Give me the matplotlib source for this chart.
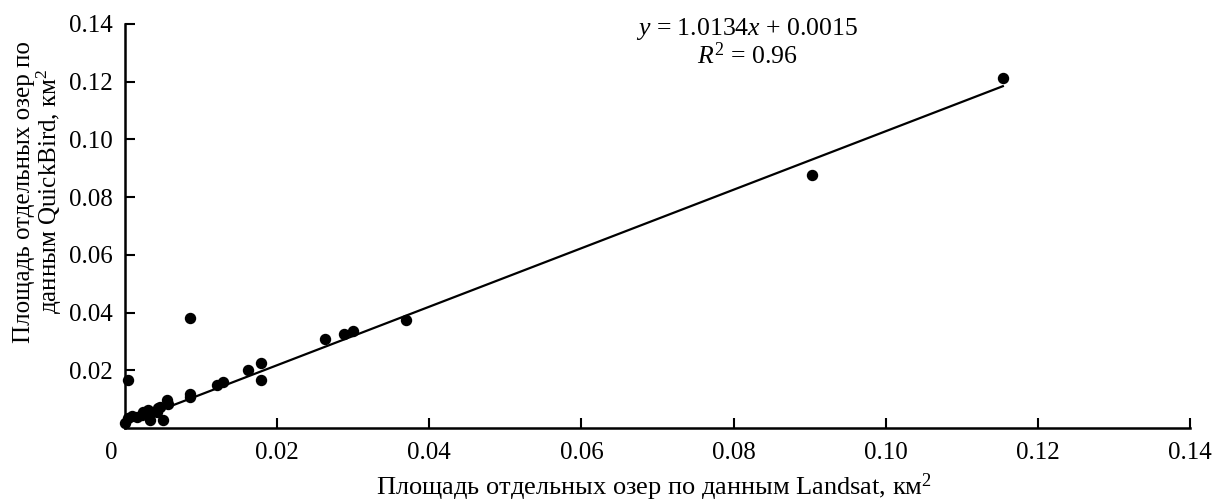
import numpy as np
import matplotlib
matplotlib.use("Agg")
import matplotlib.pyplot as plt
import matplotlib.transforms as mtransforms

plt.rcParams['font.family'] = ['Liberation Serif', 'DejaVu Serif']
plt.rcParams['mathtext.fontset'] = 'custom'
plt.rcParams['mathtext.rm'] = 'Liberation Serif'
plt.rcParams['mathtext.it'] = 'Liberation Serif:italic'

# lake areas, km^2
landsat = [0.0000, 0.0004, 0.0009, 0.0016, 0.0022, 0.0026, 0.0033, 0.0033,
           0.0042, 0.0046, 0.0050, 0.0055, 0.0057, 0.0043, 0.0030, 0.0024,
           0.0085, 0.0085, 0.0085, 0.0121, 0.0129, 0.0162, 0.0179, 0.0179,
           0.0263, 0.0288, 0.0300, 0.0369, 0.0903, 0.1154, 0.0004]
quickbird = [0.0017, 0.0035, 0.0042, 0.0038, 0.0045, 0.0055, 0.0052, 0.0028,
             0.0055, 0.0073, 0.0028, 0.0097, 0.0083, 0.0069, 0.0062, 0.0055,
             0.0107, 0.0118, 0.0381, 0.0149, 0.0159, 0.0201, 0.0225, 0.0166,
             0.0308, 0.0326, 0.0336, 0.0374, 0.0877, 0.1213, 0.0166]

slope, intercept = 1.0134, 0.0015
fit_range = [0.001, 0.1154]

xticks = [0, 0.02, 0.04, 0.06, 0.08, 0.10, 0.12, 0.14]
xtick_labels = ['0', '0.02', '0.04', '0.06', '0.08', '0.10', '0.12', '0.14']
yticks = [0.02, 0.04, 0.06, 0.08, 0.10, 0.12, 0.14]
ytick_labels = ['0.02', '0.04', '0.06', '0.08', '0.10', '0.12', '0.14']

fig = plt.figure(figsize=(12.15, 5.03), dpi=100)
ax = fig.add_axes([0.1029, 0.1491, 0.8765, 0.8032])

ax.plot(landsat, quickbird, 'o', color='black', markersize=7.2, clip_on=False, zorder=3)
fx = np.array(fit_range)
ax.plot(fx, slope * fx + intercept, color='black', lw=1.6)

ax.set_xlim(0, 0.14)
ax.set_ylim(0, 0.14)

ax.spines['top'].set_visible(False)
ax.spines['right'].set_visible(False)
for s in ['left', 'bottom']:
    ax.spines[s].set_linewidth(1.8)

ax.set_xticks(xticks)
ax.set_xticklabels(xtick_labels)
ax.set_yticks(yticks)
ax.set_yticklabels(ytick_labels)
ax.tick_params(axis='both', direction='in', length=7, width=1.5, labelsize=18)
ax.tick_params(axis='x', pad=10)
ax.tick_params(axis='y', pad=9)

# "0" label sits left of the corner
lbl0 = ax.get_xticklabels()[0]
lbl0.set_transform(lbl0.get_transform() + mtransforms.ScaledTranslation(-14 / 100, 0, fig.dpi_scale_trans))

ax.set_xlabel('Площадь отдельных озер по данным Landsat, км$^2$', fontsize=19)
ax.xaxis.set_label_coords(0.497, -0.108)
ax.set_ylabel('Площадь отдельных озер по\nданным QuickBird, км$^2$', fontsize=18, linespacing=1.0)
ax.yaxis.set_label_coords(-0.057, 0.585)

ax.text(0.0818, 0.1428, '$y$ = 1.0134$x$ + 0.0015\n$R^2$ = 0.96', fontsize=18.5,
        ha='center', va='top', linespacing=1.0, transform=ax.transData)

fig.savefig('out.png', dpi=100)
